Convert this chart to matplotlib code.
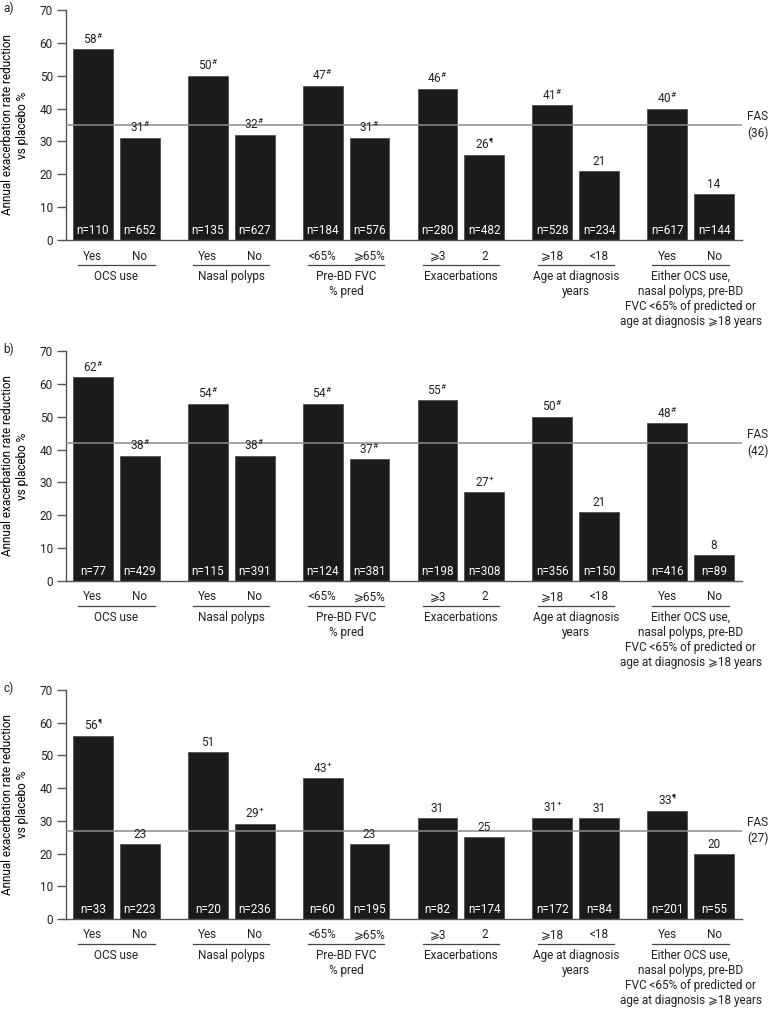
import numpy as np
import matplotlib.pyplot as plt

plt.rcParams['font.family'] = ['Roboto', 'DejaVu Sans']
plt.rcParams['mathtext.fontset'] = 'custom'
plt.rcParams['mathtext.rm'] = 'Roboto'
plt.rcParams['mathtext.it'] = 'Roboto:italic'
plt.rcParams['font.size'] = 8.5
plt.rcParams['text.color'] = '#222222'

groups = ['OCS use', 'Nasal polyps', 'Pre-BD FVC\n% pred', 'Exacerbations',
          'Age at diagnosis\nyears',
          'Either OCS use,\nnasal polyps, pre-BD\nFVC <65% of predicted or\nage at diagnosis \u2a7e18 years']
subgroups = [['Yes', 'No'], ['Yes', 'No'], ['<65%', '\u2a7e65%'], ['\u2a7e3', '2'],
             ['\u2a7e18', '<18'], ['Yes', 'No']]

# panel a)
vals_a = [58, 31, 50, 32, 47, 31, 46, 26, 41, 21, 40, 14]
sig_a = ['#', '#', '#', '#', '#', '#', '#', '¶', '#', '', '#', '']
n_a = [110, 652, 135, 627, 184, 576, 280, 482, 528, 234, 617, 144]
# panel b)
vals_b = [62, 38, 54, 38, 54, 37, 55, 27, 50, 21, 48, 8]
sig_b = ['#', '#', '#', '#', '#', '#', '#', '+', '#', '', '#', '']
n_b = [77, 429, 115, 391, 124, 381, 198, 308, 356, 150, 416, 89]
# panel c)
vals_c = [56, 23, 51, 29, 43, 23, 31, 25, 31, 31, 33, 20]
sig_c = ['¶', '', '', '+', '+', '', '', '', '+', '', '¶', '']
n_c = [33, 223, 20, 236, 60, 195, 82, 174, 172, 84, 201, 55]

fas_line = [35, 42, 27]
fas_text = ['36', '42', '27']
panel_names = ['a)', 'b)', 'c)']

W, H = 769, 1010
fig = plt.figure(figsize=(W / 100, H / 100), dpi=100)

# axes boxes in pixels (top, bottom)
boxes = [(10, 240), (351, 581), (690, 919)]
left_px, right_px = 66, 742

pitch, inner, bw = 2.88, 1.175, 1.0
xs = np.array([g * pitch + j * inner + bw / 2 for g in range(6) for j in range(2)])

def sup(s):
    if s == '':
        return ''
    if s == '#':
        return r'$^{\#}$'
    return '$^{' + s + '}$'

data = [(vals_a, sig_a, n_a), (vals_b, sig_b, n_b), (vals_c, sig_c, n_c)]

for k, (vals, sigs, ns) in enumerate(data):
    top, bot = boxes[k]
    ax = fig.add_axes([left_px / W, 1 - bot / H, (right_px - left_px) / W, (bot - top) / H])
    hpx = bot - top
    ax.bar(xs, vals, width=bw, color='#1b1b1b', edgecolor='#5a5a5a', linewidth=0.7, zorder=2)
    ax.axhline(fas_line[k], color='#8c8c8c', linewidth=1.1, zorder=3)
    ax.set_xlim(-0.175, xs[-1] + bw / 2 + 0.2)
    ax.set_ylim(0, 70)
    ax.set_yticks(range(0, 71, 10))
    ax.set_xticks([])
    for s in ['top', 'right']:
        ax.spines[s].set_visible(False)
    for s in ['left', 'bottom']:
        ax.spines[s].set_color('#555555')
        ax.spines[s].set_linewidth(1.0)
    ax.tick_params(axis='y', length=6.5, width=1.0, color='#555555', pad=3,
                   labelsize=8.5, labelcolor='#222222')
    ax.set_ylabel('Annual exacerbation rate reduction\nvs placebo %', fontsize=8.5,
                  va='center', linespacing=1.25)
    ax.yaxis.set_label_coords((15 - left_px) / (right_px - left_px), 0.5)

    for x, v, s, n in zip(xs, vals, sigs, ns):
        ax.annotate(str(v) + sup(s), (x, v), xytext=(0, 2), textcoords='offset points',
                    ha='center', va='bottom', fontsize=8.5, zorder=4)
        ax.annotate('n=%d' % n, (x, 0), xytext=(0, 2.5), textcoords='offset points',
                    ha='center', va='bottom', color='white', fontsize=8.5, zorder=4)

    tr = ax.get_xaxis_transform()
    for g in range(6):
        x0, x1 = xs[2 * g], xs[2 * g + 1]
        for j, lab in enumerate(subgroups[g]):
            ax.annotate(lab, (xs[2 * g + j], 0), xycoords=tr, xytext=(0, -16 * 0.72),
                        textcoords='offset points', ha='center', va='center', fontsize=8.5)
        ax.plot([x0 - 0.37, x1 + 0.37], [-25 / hpx] * 2, transform=tr, color='#444444',
                linewidth=0.9, clip_on=False)
        ax.annotate(groups[g], ((x0 + x1) / 2, 0), xycoords=tr, xytext=(0, -30 * 0.72),
                    textcoords='offset points', ha='center', va='top', fontsize=8.5,
                    linespacing=1.2)

    ax.text((747 - left_px) / (right_px - left_px), fas_line[k], 'FAS\n(' + fas_text[k] + ')',
            transform=ax.get_yaxis_transform(), ha='left', va='center', fontsize=8.5,
            linespacing=1.3)
    fig.text(3 / W, 1 - (top - 2) / H, panel_names[k], ha='left', va='center', fontsize=8.5)

fig.savefig('out.png', dpi=100)
